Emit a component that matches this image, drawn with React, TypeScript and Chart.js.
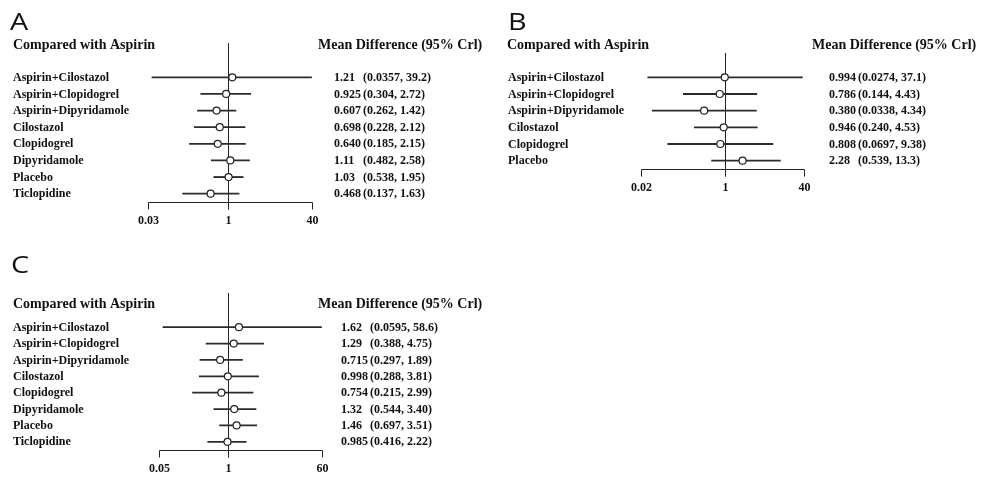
import React, { useEffect, useRef } from "react";
import { Chart, registerables } from "chart.js";

Chart.register(...registerables);

// ---- Data ----
const labelsA = [
  "Aspirin+Cilostazol",
  "Aspirin+Clopidogrel",
  "Aspirin+Dipyridamole",
  "Cilostazol",
  "Clopidogrel",
  "Dipyridamole",
  "Placebo",
  "Ticlopidine",
];
const meanA = [1.21, 0.925, 0.607, 0.698, 0.64, 1.11, 1.03, 0.468];
const lowA = [0.0357, 0.304, 0.262, 0.228, 0.185, 0.482, 0.538, 0.137];
const highA = [39.2, 2.72, 1.42, 2.12, 2.15, 2.58, 1.95, 1.63];
const ticksA = [0.03, 1, 40];
const tickLabelsA = ["0.03", "1", "40"];

const labelsB = [
  "Aspirin+Cilostazol",
  "Aspirin+Clopidogrel",
  "Aspirin+Dipyridamole",
  "Cilostazol",
  "Clopidogrel",
  "Placebo",
];
const meanB = [0.994, 0.786, 0.38, 0.946, 0.808, 2.28];
const lowB = [0.0274, 0.144, 0.0338, 0.24, 0.0697, 0.539];
const highB = [37.1, 4.43, 4.34, 4.53, 9.38, 13.3];
const ticksB = [0.02, 1, 40];
const tickLabelsB = ["0.02", "1", "40"];

const labelsC = [
  "Aspirin+Cilostazol",
  "Aspirin+Clopidogrel",
  "Aspirin+Dipyridamole",
  "Cilostazol",
  "Clopidogrel",
  "Dipyridamole",
  "Placebo",
  "Ticlopidine",
];
const meanC = [1.62, 1.29, 0.715, 0.998, 0.754, 1.32, 1.46, 0.985];
const lowC = [0.0595, 0.388, 0.297, 0.288, 0.215, 0.544, 0.697, 0.416];
const highC = [58.6, 4.75, 1.89, 3.81, 2.99, 3.4, 3.51, 2.22];
const ticksC = [0.05, 1, 60];
const tickLabelsC = ["0.05", "1", "60"];

const leftHeader = "Compared with Aspirin";
const rightHeader = "Mean Difference (95% Crl)";

// ---- Layout ----
type Panel = {
  letter: string;
  labels: string[];
  mean: number[];
  low: number[];
  high: number[];
  ticks: number[];
  tickLabels: string[];
  left: number;
  top: number;
  width: number;
  height: number;
  padding: { left: number; right: number; top: number; bottom: number };
  letterX: number;
  letterY: number;
  headerY: number;
  headerLX: number;
  headerRX: number;
  labelX: number;
  valueX: number;
  ciX: number;
  refTop: number;
};

const panels: Panel[] = [
  {
    letter: "A",
    labels: labelsA,
    mean: meanA,
    low: lowA,
    high: highA,
    ticks: ticksA,
    tickLabels: tickLabelsA,
    left: 0,
    top: 0,
    width: 490,
    height: 240,
    padding: { left: 148, right: 178, top: 69, bottom: 38 },
    letterX: 10,
    letterY: 30,
    headerY: 45,
    headerLX: 13,
    headerRX: 318,
    labelX: 13,
    valueX: 334,
    ciX: 363,
    refTop: 43,
  },
  {
    letter: "B",
    labels: labelsB,
    mean: meanB,
    low: lowB,
    high: highB,
    ticks: ticksB,
    tickLabels: tickLabelsB,
    left: 490,
    top: 0,
    width: 494,
    height: 240,
    padding: { left: 151, right: 180, top: 69, bottom: 71 },
    letterX: 18,
    letterY: 30,
    headerY: 45,
    headerLX: 17,
    headerRX: 322,
    labelX: 18,
    valueX: 339,
    ciX: 368,
    refTop: 53,
  },
  {
    letter: "C",
    labels: labelsC,
    mean: meanC,
    low: lowC,
    high: highC,
    ticks: ticksC,
    tickLabels: tickLabelsC,
    left: 0,
    top: 240,
    width: 490,
    height: 240,
    padding: { left: 159, right: 168, top: 79, bottom: 30 },
    letterX: 11,
    letterY: 33,
    headerY: 64,
    headerLX: 13,
    headerRX: 318,
    labelX: 13,
    valueX: 341,
    ciX: 370,
    refTop: 53,
  },
];

const fmt = (v: number) => v.toPrecision(3);

const LABEL_FONT = 'bold 12px "Liberation Serif", "Times New Roman", serif';
const HEADER_FONT = 'bold 14px "Liberation Serif", "Times New Roman", serif';
const LETTER_FONT = '400 24px "Open Sans", "Liberation Sans", sans-serif';

function forestPlugin(p: Panel) {
  return {
    id: "forest" + p.letter,
    beforeDatasetsDraw(chart: any) {
      const ctx: CanvasRenderingContext2D = chart.ctx;
      const xs = chart.scales.x;
      const area = chart.chartArea;
      ctx.save();
      ctx.strokeStyle = "#222";
      ctx.lineWidth = 1;
      const axisY = Math.round(area.bottom) + 0.5;
      const tickLen = 7;
      // reference line at 1
      const x1 = Math.round(xs.getPixelForValue(1)) + 0.5;
      ctx.beginPath();
      ctx.moveTo(x1, p.refTop);
      ctx.lineTo(x1, axisY + tickLen);
      ctx.stroke();
      // axis line
      const xl = Math.round(xs.getPixelForValue(p.ticks[0])) + 0.5;
      const xr = Math.round(xs.getPixelForValue(p.ticks[p.ticks.length - 1])) + 0.5;
      ctx.beginPath();
      ctx.moveTo(xl, axisY);
      ctx.lineTo(xr, axisY);
      ctx.stroke();
      // ticks + labels
      ctx.fillStyle = "#111";
      ctx.font = LABEL_FONT;
      ctx.textAlign = "center";
      ctx.textBaseline = "middle";
      p.ticks.forEach((t, i) => {
        const tx = Math.round(xs.getPixelForValue(t)) + 0.5;
        ctx.beginPath();
        ctx.moveTo(tx, axisY);
        ctx.lineTo(tx, axisY + tickLen);
        ctx.stroke();
        ctx.fillText(p.tickLabels[i], tx, axisY + 18.5);
      });
      ctx.restore();
    },
    afterDraw(chart: any) {
      const ctx: CanvasRenderingContext2D = chart.ctx;
      const ys = chart.scales.y;
      ctx.save();
      ctx.fillStyle = "#111";
      // panel letter (slightly widened, like the original's geometric face)
      ctx.save();
      ctx.font = LETTER_FONT;
      ctx.textAlign = "left";
      ctx.textBaseline = "alphabetic";
      ctx.translate(p.letterX, p.letterY);
      ctx.scale(1.2, 1);
      ctx.fillText(p.letter, 0, 0);
      ctx.restore();
      // headers
      ctx.font = HEADER_FONT;
      ctx.textAlign = "left";
      ctx.textBaseline = "middle";
      ctx.fillText(leftHeader, p.headerLX, p.headerY);
      ctx.fillText(rightHeader, p.headerRX, p.headerY);
      // rows
      ctx.font = LABEL_FONT;
      p.labels.forEach((lab, i) => {
        const y = ys.getPixelForValue(i) + 0.5;
        ctx.fillText(lab, p.labelX, y);
        ctx.fillText(fmt(p.mean[i]), p.valueX, y);
        ctx.fillText("(" + fmt(p.low[i]) + ", " + fmt(p.high[i]) + ")", p.ciX, y);
      });
      ctx.restore();
    },
  };
}

function ForestPanel({ p }: { p: Panel }) {
  const ref = useRef<HTMLCanvasElement | null>(null);
  useEffect(() => {
    if (!ref.current) return;
    const chart = new Chart(ref.current, {
      type: "bar",
      data: {
        labels: p.labels,
        datasets: [
          {
            type: "line",
            data: p.mean.map((m, i) => ({ x: m, y: p.labels[i] })) as any,
            showLine: false,
            pointRadius: 3.5,
            pointHoverRadius: 3.5,
            pointBackgroundColor: "#ffffff",
            pointBorderColor: "#222",
            pointBorderWidth: 1.2,
            order: 0,
          } as any,
          {
            type: "bar",
            data: p.low.map((l, i) => [l, p.high[i]]) as any,
            backgroundColor: "#2b2b2b",
            borderWidth: 0,
            barThickness: 1.2,
            order: 1,
          } as any,
        ],
      },
      options: {
        indexAxis: "y",
        responsive: false,
        animation: false,
        events: [],
        layout: { padding: p.padding },
        plugins: { legend: { display: false }, tooltip: { enabled: false } },
        scales: {
          x: {
            type: "logarithmic",
            min: p.ticks[0],
            max: p.ticks[p.ticks.length - 1],
            display: false,
          },
          y: { type: "category", display: false, offset: true },
        },
      } as any,
      plugins: [forestPlugin(p)],
    });
    return () => chart.destroy();
  }, [p]);
  return (
    <canvas
      ref={ref}
      width={p.width}
      height={p.height}
      style={{
        position: "absolute",
        left: p.left,
        top: p.top,
        width: p.width,
        height: p.height,
      }}
    />
  );
}

export default function App() {
  return (
    <div
      style={{
        position: "fixed",
        left: 0,
        top: 0,
        width: 984,
        height: 480,
        background: "#ffffff",
        overflow: "hidden",
      }}
    >
      {panels.map((p) => (
        <ForestPanel key={p.letter} p={p} />
      ))}
    </div>
  );
}
